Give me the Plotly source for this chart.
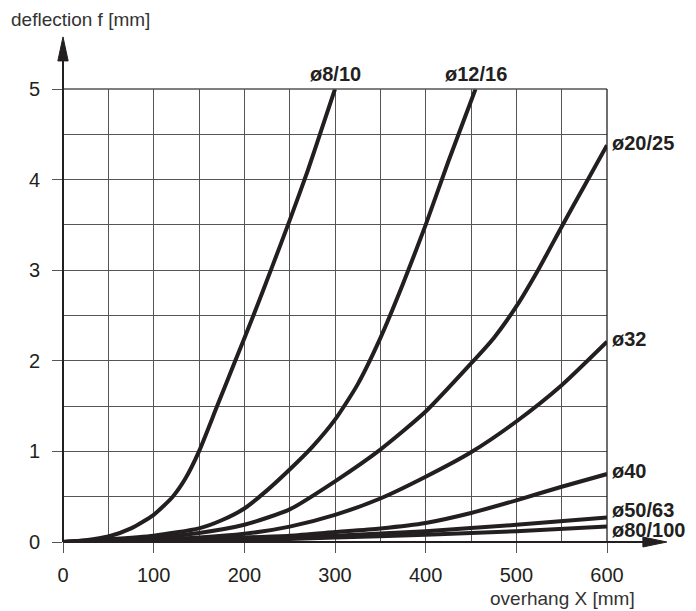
import plotly.graph_objects as go

# ---- data ----
x_d8 = [0, 25, 50, 75, 100, 121, 135, 150, 170, 190, 210, 230, 250, 270, 285, 300]
y_d8 = [0, 0.02, 0.06, 0.15, 0.30, 0.50, 0.70, 1.00, 1.50, 2.00, 2.50, 3.02, 3.55, 4.10, 4.55, 5.00]

x_d12 = [0, 50, 100, 150, 175, 200, 225, 250, 275, 300, 325, 350, 375, 400, 425, 455]
y_d12 = [0, 0.03, 0.07, 0.15, 0.24, 0.37, 0.57, 0.80, 1.05, 1.35, 1.74, 2.25, 2.85, 3.50, 4.20, 5.00]

x_d20 = [0, 50, 100, 150, 200, 250, 300, 350, 400, 450, 475, 500, 525, 550, 575, 600]
y_d20 = [0, 0.02, 0.05, 0.10, 0.19, 0.36, 0.67, 1.02, 1.44, 1.97, 2.25, 2.60, 3.02, 3.48, 3.93, 4.38]

x_d32 = [0, 50, 100, 150, 200, 250, 300, 350, 400, 450, 500, 550, 600]
y_d32 = [0, 0.01, 0.03, 0.05, 0.09, 0.17, 0.30, 0.48, 0.72, 0.99, 1.33, 1.73, 2.21]

x_d40 = [0, 100, 200, 250, 300, 350, 400, 450, 500, 550, 600]
y_d40 = [0, 0.02, 0.05, 0.07, 0.11, 0.15, 0.21, 0.32, 0.46, 0.61, 0.75]

x_d50 = [75, 200, 300, 400, 500, 600]
y_d50 = [0, 0.04, 0.07, 0.12, 0.19, 0.27]

x_d80 = [150, 300, 400, 500, 600]
y_d80 = [0, 0.05, 0.08, 0.12, 0.17]

series = [
    ("ø8/10", x_d8, y_d8),
    ("ø12/16", x_d12, y_d12),
    ("ø20/25", x_d20, y_d20),
    ("ø32", x_d32, y_d32),
    ("ø40", x_d40, y_d40),
    ("ø50/63", x_d50, y_d50),
    ("ø80/100", x_d80, y_d80),
]

x_ticks = [0, 100, 200, 300, 400, 500, 600]
y_ticks = [0, 1, 2, 3, 4, 5]

x_title = "overhang X [mm]"
y_title = "deflection f [mm]"

INK = "#231f20"
GRID = "#555555"
FONT = "Liberation Sans, Arial, sans-serif"

fig = go.Figure()
for name, xs, ys in series:
    fig.add_trace(go.Scatter(
        x=xs, y=ys, mode="lines", name=name,
        line=dict(color=INK, width=4, shape="spline", smoothing=0.6),
        showlegend=False, hoverinfo="skip",
    ))

# curve labels
top_labels = {"ø8/10", "ø12/16"}
right_shift = {"ø20/25": 2, "ø32": 3, "ø40": 3, "ø50/63": 8, "ø80/100": -3}
annotations = []
for name, xs, ys in series:
    if name in top_labels:
        annotations.append(dict(
            x=xs[-1], y=ys[-1], xref="x", yref="y", text=f"<b>{name}</b>",
            showarrow=False, xanchor="center", yanchor="middle", yshift=15,
            font=dict(family=FONT, size=20, color=INK),
        ))
    else:
        annotations.append(dict(
            x=xs[-1], y=ys[-1], xref="x", yref="y", text=f"<b>{name}</b>",
            showarrow=False, xanchor="left", yanchor="middle",
            xshift=3, yshift=right_shift[name],
            font=dict(family=FONT, size=20, color=INK),
        ))

annotations.append(dict(
    x=-0.098, y=1.1788, xref="paper", yref="paper", text=y_title,
    showarrow=False, xanchor="left", yanchor="top", borderpad=0,
    font=dict(family=FONT, size=19, color="#333333"),
))
annotations.append(dict(
    x=1.055, y=-0.124, xref="paper", yref="paper", text=x_title,
    showarrow=False, xanchor="right", yanchor="middle",
    font=dict(family=FONT, size=19, color="#333333"),
))

shapes = [
    # top and right border of the grid
    dict(type="line", xref="paper", yref="paper", x0=0, x1=1, y0=1, y1=1,
         line=dict(color=GRID, width=1.3)),
    dict(type="line", xref="paper", yref="paper", x0=1, x1=1, y0=0, y1=1,
         line=dict(color=INK, width=1.3)),
    # axes with arrows
    dict(type="line", xref="paper", yref="paper", x0=0, x1=1.07, y0=0, y1=0,
         line=dict(color=INK, width=2)),
    dict(type="line", xref="paper", yref="paper", x0=0, x1=0, y0=0, y1=1.07,
         line=dict(color=INK, width=2)),
    dict(type="path", xref="paper", yref="paper",
         path="M 1.066 -0.011 L 1.110 0 L 1.066 0.011 Z",
         fillcolor=INK, line=dict(color=INK, width=1)),
    dict(type="path", xref="paper", yref="paper",
         path="M -0.0095 1.062 L 0 1.115 L 0.0095 1.062 Z",
         fillcolor=INK, line=dict(color=INK, width=1)),
]

# page body adds an 8 px offset, so the figure is 8 px smaller in each direction
fig.update_layout(
    width=688, height=603,
    margin=dict(l=55, r=89, t=81, b=69),
    paper_bgcolor="white", plot_bgcolor="white",
    annotations=annotations, shapes=shapes,
    font=dict(family=FONT, size=20, color=INK),
)
fig.update_xaxes(
    range=[0, 600], tickvals=x_ticks, ticktext=[str(v) for v in x_ticks],
    showgrid=True, gridcolor=GRID, gridwidth=1.3,
    minor=dict(dtick=50, tick0=0, showgrid=True, gridcolor=GRID, gridwidth=1.3),
    ticks="outside", ticklen=10, tickcolor=GRID, tickwidth=1.3,
    zeroline=False, showline=False, ticklabelstandoff=5,
    tickfont=dict(family=FONT, size=20, color=INK),
)
fig.update_yaxes(
    range=[0, 5], tickvals=y_ticks, ticktext=[str(v) for v in y_ticks],
    showgrid=True, gridcolor=GRID, gridwidth=1.3,
    minor=dict(dtick=0.5, tick0=0, showgrid=True, gridcolor=GRID, gridwidth=1.3),
    ticks="outside", ticklen=10, tickcolor=GRID, tickwidth=1.3,
    zeroline=False, showline=False, ticklabelstandoff=8,
    tickfont=dict(family=FONT, size=20, color=INK),
)

fig.write_html("out.html")
